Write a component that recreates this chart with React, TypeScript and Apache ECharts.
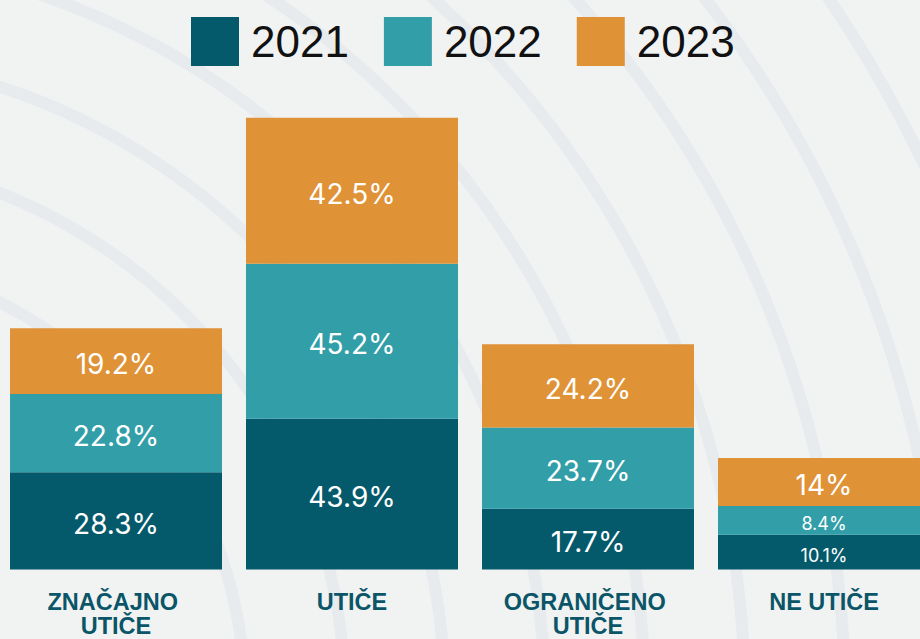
import { useEffect, useRef } from "react";
import * as echarts from "echarts";

const categories = ["ZNAČAJNO UTIČE", "UTIČE", "OGRANIČENO UTIČE", "NE UTIČE"];
const years = ["2021", "2022", "2023"];
const values2021 = [28.3, 43.9, 17.7, 10.1];
const values2022 = [22.8, 45.2, 23.7, 8.4];
const values2023 = [19.2, 42.5, 24.2, 14];
const colors = ["#04596b", "#329ea8", "#df9236"];
const ringRadii = [445, 545, 645, 745, 845, 945, 1045, 1145, 1245, 1345];

export default function App() {
  const ref = useRef<HTMLDivElement>(null);
  useEffect(() => {
    const chart = echarts.init(ref.current!, null, { renderer: "svg" });
    const seriesValues = [values2021, values2022, values2023];
    chart.setOption({
      animation: false,
      backgroundColor: "#f1f3f3",
      color: colors,
      graphic: ringRadii.map((r) => ({
        type: "circle",
        silent: true,
        z: -10,
        shape: { cx: -200, cy: 700, r },
        style: { fill: "none", stroke: "#e7ebed", lineWidth: 12 },
      })),
      legend: {
        top: 17,
        left: 191,
        padding: 0,
        itemWidth: 48,
        itemHeight: 49,
        itemGap: 35,
        icon: "rect",
        data: years,
        selectedMode: false,
        textStyle: {
          fontSize: 44,
          color: "#111111",
          fontFamily: "Liberation Sans",
          padding: [0, 0, 0, 7],
        },
      },
      grid: {
        left: -2,
        width: 944,
        top: 89,
        height: 480.5,
        outerBoundsMode: "none",
        containLabel: false,
      },
      xAxis: {
        type: "category",
        data: categories,
        axisLine: { show: false },
        axisTick: { show: false },
        axisLabel: {
          interval: 0,
          margin: 20.5,
          color: "#0a5567",
          fontFamily: "Liberation Sans",
          fontWeight: "bold",
          fontSize: 23.5,
          lineHeight: 24,
          width: 200,
          overflow: "break",
        },
      },
      yAxis: { type: "value", min: 0, max: 140, show: false },
      series: seriesValues.map((vals, i) => ({
        name: years[i],
        type: "bar",
        stack: "total",
        barWidth: 212,
        data: vals.map((v) => ({ value: v, label: { fontSize: v < 12 ? 18 : 28 } })),
        label: {
          show: true,
          position: "inside",
          color: "#ffffff",
          fontFamily: "Inter",
          fontSize: 28,
          offset: [0, 3],
          formatter: (p: any) => `${p.value}%`,
        },
        emphasis: { disabled: true },
      })),
    });
    return () => chart.dispose();
  }, []);
  return (
    <div
      ref={ref}
      style={{ position: "fixed", left: 0, top: 0, width: 920, height: 639 }}
    />
  );
}
